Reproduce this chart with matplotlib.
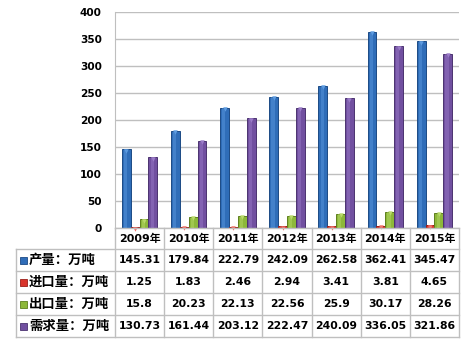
import matplotlib
matplotlib.use("Agg")
import matplotlib.pyplot as plt
from matplotlib.transforms import blended_transform_factory
from matplotlib.lines import Line2D
from matplotlib.patches import Rectangle
import numpy as np

years = ["2009年", "2010年", "2011年", "2012年", "2013年", "2014年", "2015年"]
series_names = ["产量：万吨", "进口量：万吨", "出口量：万吨", "需求量：万吨"]
production = [145.31, 179.84, 222.79, 242.09, 262.58, 362.41, 345.47]
imports = [1.25, 1.83, 2.46, 2.94, 3.41, 3.81, 4.65]
exports = [15.8, 20.23, 22.13, 22.56, 25.9, 30.17, 28.26]
demand = [130.73, 161.44, 203.12, 222.47, 240.09, 336.05, 321.86]
yticks = [0, 50, 100, 150, 200, 250, 300, 350, 400]

series = [production, imports, exports, demand]
base_colors = ["#2F6DB8", "#D9342B", "#8DB83A", "#7150A0"]
dark_colors = ["#1C4A85", "#9A1F18", "#5E7F1E", "#4B3370"]
light_colors = ["#5C9BE0", "#F07068", "#B9DA6A", "#9B7CC8"]

W, H = 469, 340
fig = plt.figure(figsize=(W / 100, H / 100), dpi=100)
fig.patch.set_facecolor("white")

def fx(px):
    return px / W

def fy(py):
    return 1 - py / H

left_px, right_px, top_px, bot_px = 115, 459, 11.7, 228
ax = fig.add_axes([fx(left_px), fy(bot_px), fx(right_px) - fx(left_px), fy(top_px) - fy(bot_px)])
ax.set_xlim(-0.5, len(years) - 0.5)
ax.set_ylim(0, 400)
ax.set_yticks(yticks)
ax.set_yticklabels([str(v) for v in yticks], fontsize=7.6, fontweight="bold", family="DejaVu Sans")
ax.tick_params(axis="y", length=0, pad=9.5)
ax.set_xticks([])
for s in ["top", "right", "bottom"]:
    ax.spines[s].set_visible(False)
ax.spines["left"].set_color("#BFBFBF")
ax.grid(axis="y", color="#BFBFBF", linewidth=1)
ax.set_axisbelow(True)

x = np.arange(len(years))
bw = 0.18
offsets = [-1.5 * bw, -0.5 * bw, 0.5 * bw, 1.5 * bw]
for vals, off, c, d, l in zip(series, offsets, base_colors, dark_colors, light_colors):
    ax.bar(x + off, vals, width=bw, color=c, edgecolor=d, linewidth=0.7, zorder=3)
    ax.bar(x + off - bw * 0.08, vals, width=bw * 0.35, color=l, alpha=0.45, linewidth=0, zorder=4)
    ax.plot(x + off, np.array(vals) - 2.5, linestyle="none", marker="v", markersize=3.2,
            color=l, markeredgewidth=0, zorder=5, clip_on=False)

# data table
tr = blended_transform_factory(ax.transData, fig.transFigure)
grid_c = "#BFBFBF"
row_edges = [228, 249, 271, 293, 315, 337]
table_left = 16
fig.add_artist(Line2D([fx(left_px), fx(right_px)], [fy(228), fy(228)], color=grid_c, lw=1))
for ry in row_edges[1:]:
    fig.add_artist(Line2D([fx(table_left), fx(right_px)], [fy(ry), fy(ry)], color=grid_c, lw=1))
for i in range(len(years) + 1):
    fig.add_artist(Line2D([i - 0.5, i - 0.5], [fy(228), fy(337)], transform=tr, color=grid_c, lw=1))
fig.add_artist(Line2D([fx(table_left), fx(table_left)], [fy(249), fy(337)], color=grid_c, lw=1))

hy = fy((row_edges[0] + row_edges[1]) / 2)
for i, yr in enumerate(years):
    fig.text(i, hy, yr, transform=tr, ha="center", va="center", fontsize=7.9, fontweight="bold",
             family=["DejaVu Sans", "Noto Sans CJK SC"])

for r, (name, vals) in enumerate(zip(series_names, series)):
    cy = (row_edges[r + 1] + row_edges[r + 2]) / 2
    fig.add_artist(Rectangle((fx(20), fy(cy + 3.5)), fx(7), fy(0) - fy(7),
                             facecolor=base_colors[r], edgecolor=dark_colors[r], lw=0.6))
    fig.text(fx(29), fy(cy), name, ha="left", va="center", fontsize=9.6, fontweight="bold",
             family=["Noto Sans CJK SC"])
    for i, v in enumerate(vals):
        fig.text(i, fy(cy), f"{v:g}", transform=tr, ha="center", va="center", fontsize=7.8,
                 fontweight="bold", family="DejaVu Sans")

fig.savefig("out.png", dpi=100, facecolor="white")
